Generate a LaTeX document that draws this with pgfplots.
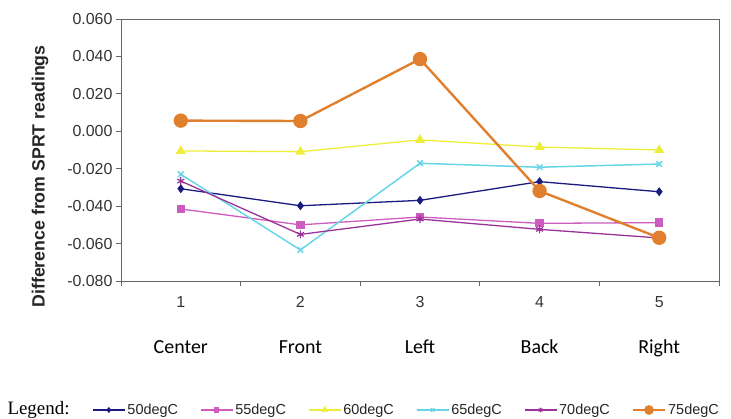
\documentclass[border=0pt]{standalone}
\usepackage{pgfplots}
\pgfplotsset{compat=1.18}
\usepackage{fontspec}
\setmainfont{Liberation Sans}
\newfontfamily\calibri{Carlito}
\newfontfamily\timesfont{Liberation Serif}
\definecolor{c50}{HTML}{1A1A80}
\definecolor{c55}{HTML}{CC5CC0}
\definecolor{c60}{HTML}{EEEE3A}
\definecolor{c65}{HTML}{66D6E6}
\definecolor{c70}{HTML}{993399}
\definecolor{c75}{HTML}{E0802E}
\begin{document}
\begin{tikzpicture}
\path[use as bounding box] (-121bp,-138bp) rectangle (610bp,281bp);
\begin{axis}[
  at={(0,0)}, anchor=south west,
  scale only axis, width=598bp, height=262bp,
  xmin=0.5, xmax=5.5, ymin=-0.08, ymax=0.06,
  ytick={-0.08,-0.06,-0.04,-0.02,0,0.02,0.04,0.06},
  scaled y ticks=false,
  /pgf/number format/assume math mode=true,
  yticklabel={\pgfmathprintnumber[fixed, fixed zerofill, precision=3]{\tick}},
  y tick label style={font=\fontsize{16}{16}\selectfont, color=black!80},
  x tick label style={font=\fontsize{16}{16}\selectfont, yshift=-7bp, color=black!80},
  xtick={1,2,3,4,5},
  minor xtick={0.5,1.5,2.5,3.5,4.5,5.5},
  major x tick style={draw=none},
  tick align=outside,
  major tick length=5bp, minor tick length=5bp,
  axis line style={draw=gray!80!black, line width=1pt},
  tick style={gray!80!black, line width=0.8pt},
  xtick pos=bottom, ytick pos=left,
  ylabel={\bfseries Difference from SPRT readings},
  ylabel style={at={(rel axis cs:-0.1355,0.399)}, anchor=center, rotate=0, font=\fontsize{17.8}{18}\selectfont, color=black!85},
  clip=false,
  legend columns=6,
  legend style={draw=none, at={(rel axis cs:0,0)}, anchor=west, xshift=-29bp, yshift=-129bp,
     font=\fontsize{14.5}{16}\selectfont, inner sep=0pt, text=black!85,
     /tikz/every even column/.append style={column sep=20bp}},
  legend image code/.code={\draw[mark repeat=2,mark phase=2,#1,/tikz/every mark/.append style={scale=0.6}] plot coordinates {(0bp,0bp)(16bp,0bp)(32bp,0bp)};},
]
\addplot[c50, line width=1.3pt, mark=diamond*, mark size=3.5pt] coordinates {(1,-0.0307) (2,-0.0398) (3,-0.0369) (4,-0.0269) (5,-0.0323)};
\addlegendentry{50degC}
\addplot[c55, line width=1.3pt, mark=square*, mark size=3.5pt] coordinates {(1,-0.0415) (2,-0.0500) (3,-0.0458) (4,-0.0492) (5,-0.0488)};
\addlegendentry{55degC}
\addplot[c60, line width=1.3pt, mark=triangle*, mark size=4.5pt] coordinates {(1,-0.0105) (2,-0.0109) (3,-0.0046) (4,-0.0084) (5,-0.0100)};
\addlegendentry{60degC}
\addplot[c65, line width=1.5pt, mark=x, mark size=4pt, mark options={line width=1.5pt}] coordinates {(1,-0.0230) (2,-0.0634) (3,-0.0171) (4,-0.0192) (5,-0.0175)};
\addlegendentry{65degC}
\addplot[c70, line width=1.3pt, mark=asterisk, mark size=4pt, mark options={line width=1.2pt}] coordinates {(1,-0.0266) (2,-0.0551) (3,-0.0469) (4,-0.0524) (5,-0.0570)};
\addlegendentry{70degC}
\addplot[c75, line width=2.4pt, mark=*, mark size=6pt] coordinates {(1,0.0057) (2,0.0055) (3,0.0386) (4,-0.0319) (5,-0.0569)};
\addlegendentry{75degC}
\node[font=\calibri\fontsize{20}{22}\selectfont, anchor=base] at (rel axis cs:0.1,0) [yshift=-72.5bp] {Center};
\node[font=\calibri\fontsize{20}{22}\selectfont, anchor=base] at (rel axis cs:0.3,0) [yshift=-72.5bp] {Front};
\node[font=\calibri\fontsize{20}{22}\selectfont, anchor=base] at (rel axis cs:0.5,0) [yshift=-72.5bp] {Left};
\node[font=\calibri\fontsize{20}{22}\selectfont, anchor=base] at (rel axis cs:0.7,0) [yshift=-72.5bp] {Back};
\node[font=\calibri\fontsize{20}{22}\selectfont, anchor=base] at (rel axis cs:0.9,0) [yshift=-72.5bp] {Right};
\node[font=\timesfont\fontsize{19}{20}\selectfont, anchor=west] at (rel axis cs:0,0) [xshift=-117bp, yshift=-129bp] {Legend:};
\end{axis}
\end{tikzpicture}
\end{document}
